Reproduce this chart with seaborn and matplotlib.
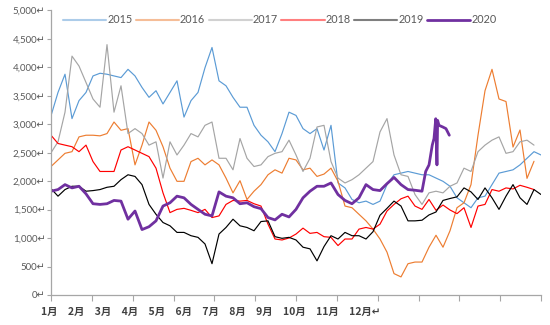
import numpy as np
import matplotlib
matplotlib.use("Agg")
import matplotlib.pyplot as plt
import seaborn as sns

# ---------------- data ----------------
days = np.linspace(0, 365, 71)

y2015 = [3150, 3560, 3880, 3100, 3416, 3560, 3850, 3897, 3880, 3850, 3821, 3966, 3850, 3648,
         3474, 3590, 3358, 3560, 3764, 3127, 3416, 3560, 3995, 4350, 3764, 3677, 3474, 3300,
         3300, 2982, 2808, 2692, 2519, 2837, 3213, 3156, 2924, 2837, 2924, 2548, 2982, 1969,
         1882, 1679, 1621, 1650, 1592, 1650, 1940, 2113, 2142, 2171, 2142, 2113, 2113, 2055,
         1998, 1911, 1708, 1621, 1534, 1708, 1737, 1940, 2142, 2171, 2200, 2287, 2403, 2519, 2461]

y2016 = [2258, 2374, 2490, 2519, 2779, 2808, 2808, 2797, 2837, 3040, 2895, 2924, 2287, 2634,
         3040, 2895, 2606, 2229, 1998, 1998, 2345, 2403, 2287, 2374, 2287, 2055, 1795, 2009,
         1679, 1824, 1940, 2113, 2200, 2142, 2403, 2374, 2200, 2229, 2084, 2125, 2229, 1998,
         1563, 1534, 1418, 1303, 1158, 984, 753, 376, 318, 550, 579, 579, 840, 1050,
         840, 1129, 1534, 1621, 1940, 2808, 3590, 3966, 3445, 3400, 2600, 2900, 2050, 2350]

y2017 = [2500, 2692, 3213, 4198, 4024, 3735, 3445, 3300, 4400, 3213, 3677, 2837, 2924, 2837,
         2634, 2692, 2055, 2692, 2461, 2634, 2837, 2779, 2982, 3040, 2403, 2403, 2200, 2750,
         2403, 2258, 2287, 2432, 2490, 2519, 2721, 2461, 2171, 2403, 2953, 2982, 2345, 2055,
         1969, 2027, 2113, 2229, 2345, 2866, 3100, 2461, 2113, 2084, 1766, 1592, 1795, 1824,
         1795, 1911, 1969, 2229, 2171, 2519, 2634, 2721, 2779, 2490, 2519, 2692, 2721, 2634]

y2018 = [2808, 2663, 2634, 2606, 2519, 2634, 2345, 2171, 2171, 2171, 2548, 2606, 2548, 2490,
         2432, 2229, 1795, 1448, 1505, 1523, 1488, 1448, 1505, 1361, 1390, 1592, 1662, 1650,
         1662, 1604, 1563, 1245, 984, 967, 1002, 1071, 1175, 1083, 1100, 1025, 1013, 869,
         984, 984, 1158, 1187, 1158, 1245, 1476, 1592, 1691, 1737, 1563, 1505, 1679, 1488,
         1581, 1494, 1430, 1534, 1187, 1563, 1592, 1853, 1824, 1882, 1864, 1928, 1893, 1853]

y2019 = [1870, 1737, 1853, 1911, 1911, 1824, 1835, 1853, 1893, 1911, 2027, 2113, 2084, 1940,
         1592, 1418, 1274, 1216, 1100, 1100, 1042, 1013, 897, 550, 1071, 1187, 1332, 1216,
         1187, 1129, 1291, 1303, 1025, 996, 1013, 967, 840, 811, 600, 851, 1042, 984,
         1100, 1042, 1042, 984, 1112, 1401, 1523, 1650, 1563, 1303, 1303, 1314, 1407, 1459,
         1662, 1696, 1725, 1882, 1812, 1679, 1882, 1708, 1505, 1737, 1940, 1708, 1592, 1853, 1766]

y2020 = [1824, 1853, 1940, 1882, 1911, 1778, 1604, 1592, 1604, 1662, 1650, 1332, 1476, 1150,
         1200, 1303, 1563, 1621, 1737, 1708, 1592, 1505, 1419, 1390, 1812, 1737, 1708, 1604,
         1621, 1552, 1517, 1361, 1320, 1419, 1372, 1505, 1708, 1824, 1911, 1911, 1969, 1766,
         1662, 1604, 1708, 1940, 1853, 1835, 1957, 2067, 1940, 1853, 1841, 1824]
day2020_tail = [279.1, 281.6, 284.0, 285.3, 286.6, 287.5, 288.0, 289.0, 291.8, 294.2, 296.7]
y2020_tail = [2171, 2287, 2634, 2750, 3098, 2287, 3069, 2982, 2953, 2924, 2808]

series_names = ["2015", "2016", "2017", "2018", "2019", "2020"]
y_ticks = [0, 500, 1000, 1500, 2000, 2500, 3000, 3500, 4000, 4500, 5000]
y_labels = ["0↵", "500↵", "1,000↵", "1,500↵", "2,000↵", "2,500↵", "3,000↵",
            "3,500↵", "4,000↵", "4,500↵", "5,000↵"]
month_text = "1月　2月　3月　4月　5月　6月　7月　8月　9月　10月　11月　12月↵"

# ---------------- style ----------------
sns.set_theme(style="white")
plt.rcParams['font.family'] = ['Lato', 'DejaVu Sans']

colors = ["#5b9bd5", "#ed7d31", "#a5a5a5", "#ff0000", "#000000", "#7030a0"]
widths = [0.85, 0.85, 0.85, 0.85, 0.85, 2.0]

fig = plt.figure(figsize=(5.5, 3.25), dpi=100)
ax = fig.add_axes([51 / 550, 1 - 295 / 325, (541 - 51) / 550, (295 - 10.5) / 325])

xs = [days[:len(y2015)], days[:len(y2016)], days[:len(y2017)],
      days[:len(y2018)], days[:len(y2019)],
      np.concatenate([days[:len(y2020)], day2020_tail])]
ys = [y2015, y2016, y2017, y2018, y2019, list(y2020) + list(y2020_tail)]

for name, x, y, c, lw in zip(series_names, xs, ys, colors, widths):
    sns.lineplot(x=x, y=y, ax=ax, color=c, linewidth=lw, label=name, sort=False)

ax.set_xlim(0, 365)
ax.set_ylim(0, 5000)
ax.set_yticks(y_ticks)
ax.set_yticklabels(y_labels)
ax.set_xticks(np.linspace(0, 365, 13))
ax.set_xticklabels([])
ax.tick_params(axis='y', length=3, width=0.8, color='#a6a6a6', labelsize=7,
               labelcolor='#595959', pad=1, left=True)
ax.tick_params(axis='x', length=4, width=0.8, color='#a6a6a6', bottom=True,
               direction='out')
for s in ['top', 'right']:
    ax.spines[s].set_visible(False)
for s in ['left', 'bottom']:
    ax.spines[s].set_color('#a6a6a6')
    ax.spines[s].set_linewidth(0.9)
ax.grid(False)
ax.set_ylabel("")

ax.set_xlabel(month_text, fontsize=7.5, color='#404040', fontweight='bold',
              family=['Noto Sans CJK SC', 'DejaVu Sans'])
ax.xaxis.label.set_ha('left')
ax.xaxis.label.set_va('center')
ax.xaxis.set_label_coords(-0.02, -0.06)

leg = ax.legend(ncol=6, loc='center left', bbox_to_anchor=(0.015, 0.967),
                frameon=False, fontsize=7.8, handlelength=4.0, handletextpad=0.1,
                columnspacing=0.3, borderaxespad=0, labelcolor='#595959')
for h in leg.legend_handles[:5]:
    h.set_alpha(0.5)
    h.set_linewidth(1.5)
leg.legend_handles[5].set_linewidth(2.0)

fig.savefig("out.png", dpi=100)
